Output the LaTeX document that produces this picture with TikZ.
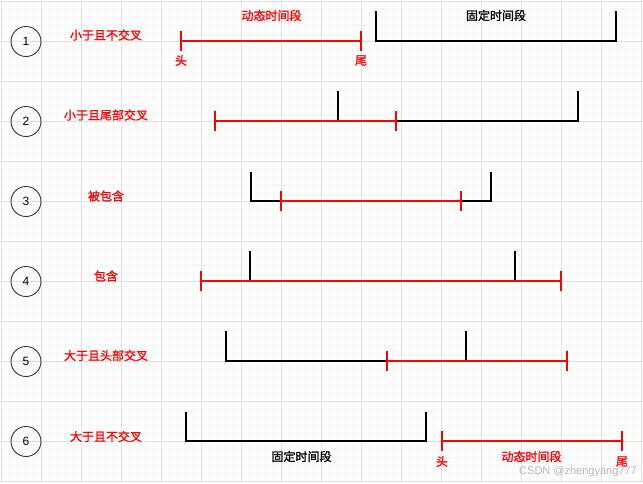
\documentclass[tikz,border=0pt]{standalone}
\usepackage{fontspec}
\setmainfont{Liberation Sans}
\newfontfamily\cjk[FakeBold=1.2]{Noto Sans CJK SC}
\newfontfamily\wmfont{Liberation Sans}
\begin{document}
\begin{tikzpicture}[x=1pt,y=-1pt,
  minorgrid/.style={line width=1pt,draw=black!4},
  majorgrid/.style={line width=1pt,draw=black!12},
  numcircle/.style={circle,draw=black!80,line width=0.9pt,minimum size=30pt,inner sep=0pt,font=\fontsize{12}{12}\selectfont},
  redlabel/.style={text=red,font=\cjk\fontsize{12}{12}\selectfont,inner sep=0pt},
  blacklabel/.style={text=black,font=\cjk\fontsize{12}{12}\selectfont,inner sep=0pt},
  fixedseg/.style={line width=2pt,draw=black},
  dynseg/.style={line width=2pt,draw=red},
  redtick/.style={line width=2pt,draw=red}
]
\useasboundingbox (0,0) rectangle (643,483);
\fill[white] (0,0) rectangle (643,483);
% grid
\foreach \x in {1.5,9.5,...,643} \draw[minorgrid] (\x,0) -- (\x,483);
\foreach \y in {1.5,9.5,...,483} \draw[minorgrid] (0,\y) -- (643,\y);
\foreach \x in {1.5,41.5,...,643} \draw[majorgrid] (\x,0) -- (\x,483);
\foreach \y in {1.5,41.5,...,483} \draw[majorgrid] (0,\y) -- (643,\y);

% numbered circles
\foreach \i in {1,...,6}
  \node[numcircle] (c\i) at (26,{41.5+80*(\i-1)}) {\i};

% row labels
\node[redlabel] (l1) at (106,35) {小于且不交叉};
\node[redlabel] (l2) at (106,115) {小于且尾部交叉};
\node[redlabel] (l3) at (106,196) {被包含};
\node[redlabel] (l4) at (106,276) {包含};
\node[redlabel] (l5) at (106,355.5) {大于且头部交叉};
\node[redlabel] (l6) at (106,436.5) {大于且不交叉};

% ---- row 1
\coordinate (f1a) at (376,11);
\coordinate (f1b) at (376,41);
\coordinate (f1c) at (616,41);
\coordinate (f1d) at (616,11);
\draw[fixedseg] (f1a) -- (f1b) -- (f1c) -- (f1d);
\coordinate (d1h) at (181,41);
\coordinate (d1t) at (360.5,41);
\draw[dynseg] (d1h) -- (d1t);
\draw[redtick] ([yshift=-10pt]d1h) -- ([yshift=10pt]d1h);
\draw[redtick] ([yshift=-10pt]d1t) -- ([yshift=10pt]d1t);
\node[redlabel] (h1) at (181,60.5) {头};
\node[redlabel] (t1) at (361,60.5) {尾};
\node[redlabel] (dl1) at (271.5,15.5) {动态时间段};
\node[blacklabel] (fl1) at (496,15.5) {固定时间段};

% ---- row 2
\coordinate (f2a) at (338,91);
\coordinate (f2b) at (338,121);
\coordinate (f2c) at (578,121);
\coordinate (f2d) at (578,91);
\draw[fixedseg] (f2a) -- (f2b) -- (f2c) -- (f2d);
\coordinate (d2h) at (215,121);
\coordinate (d2t) at (395.5,121);
\draw[dynseg] (d2h) -- (d2t);
\draw[redtick] ([yshift=-10pt]d2h) -- ([yshift=10pt]d2h);
\draw[redtick] ([yshift=-10pt]d2t) -- ([yshift=10pt]d2t);

% ---- row 3
\coordinate (f3a) at (251,172);
\coordinate (f3b) at (251,201);
\coordinate (f3c) at (491,201);
\coordinate (f3d) at (491,172);
\draw[fixedseg] (f3a) -- (f3b) -- (f3c) -- (f3d);
\coordinate (d3h) at (281,201);
\coordinate (d3t) at (461,201);
\draw[dynseg] (d3h) -- (d3t);
\draw[redtick] ([yshift=-10pt]d3h) -- ([yshift=10pt]d3h);
\draw[redtick] ([yshift=-10pt]d3t) -- ([yshift=10pt]d3t);

% ---- row 4
\coordinate (f4a) at (250,251);
\coordinate (f4b) at (250,281);
\coordinate (f4c) at (515,281);
\coordinate (f4d) at (515,251);
\draw[fixedseg] (f4a) -- (f4b) -- (f4c) -- (f4d);
\coordinate (d4h) at (201,281);
\coordinate (d4t) at (561,281);
\draw[dynseg] (d4h) -- (d4t);
\draw[redtick] ([yshift=-10pt]d4h) -- ([yshift=10pt]d4h);
\draw[redtick] ([yshift=-10pt]d4t) -- ([yshift=10pt]d4t);

% ---- row 5
\coordinate (f5a) at (226,331);
\coordinate (f5b) at (226,361);
\coordinate (f5c) at (466,361);
\coordinate (f5d) at (466,331);
\draw[fixedseg] (f5a) -- (f5b) -- (f5c) -- (f5d);
\coordinate (d5h) at (387,361);
\coordinate (d5t) at (567,361);
\draw[dynseg] (d5h) -- (d5t);
\draw[redtick] ([yshift=-10pt]d5h) -- ([yshift=10pt]d5h);
\draw[redtick] ([yshift=-10pt]d5t) -- ([yshift=10pt]d5t);

% ---- row 6
\coordinate (f6a) at (186,412);
\coordinate (f6b) at (186,441);
\coordinate (f6c) at (426,441);
\coordinate (f6d) at (426,412);
\draw[fixedseg] (f6a) -- (f6b) -- (f6c) -- (f6d);
\coordinate (d6h) at (442,441);
\coordinate (d6t) at (622,441);
\draw[dynseg] (d6h) -- (d6t);
\draw[redtick] ([yshift=-10pt]d6h) -- ([yshift=10pt]d6h);
\draw[redtick] ([yshift=-10pt]d6t) -- ([yshift=10pt]d6t);
\node[blacklabel] (fl6) at (301.5,456.5) {固定时间段};
\node[redlabel] (h6) at (442,461.5) {头};
\node[redlabel] (dl6) at (531.5,456.5) {动态时间段};
\node[redlabel] (t6) at (622,461.5) {尾};

% watermark
\node[anchor=east,text=black!28,font=\wmfont\fontsize{11}{11}\selectfont,inner sep=0pt] (wm) at (637,471.5) {CSDN @zhengyang777};
\end{tikzpicture}
\end{document}
